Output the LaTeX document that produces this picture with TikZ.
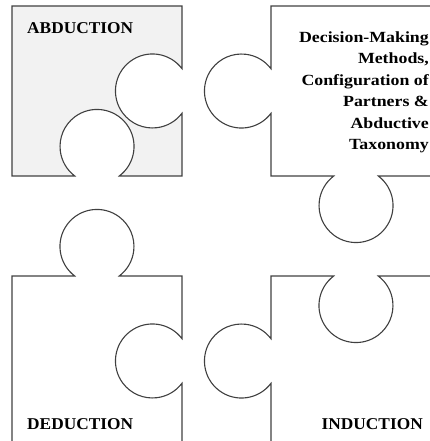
\documentclass[tikz,border=0pt]{standalone}
\usepackage{fontspec}
\usepackage{tikz}
\usetikzlibrary{positioning}
\newfontfamily\piecefont[FakeStretch=1.05]{Liberation Serif}
\newfontfamily\notefont[FakeStretch=1.15]{Liberation Serif}

\begin{document}
\begin{tikzpicture}[x=1pt,y=1pt]
    % Local definitions
    \def\rad{37}

    % Colors
    \colorlet{edgecolor}{black!75}
    \colorlet{shadecolor}{black!5}

    % Styles
    \tikzstyle{piece}=[draw=edgecolor,line width=1.1pt]
    \tikzstyle{shaded piece}=[piece,fill=shadecolor]
    \tikzstyle{piece text}=[inner sep=0pt,font=\piecefont\bfseries\fontsize{16.5}{18}\selectfont]
    \tikzstyle{note text}=[inner sep=0pt,align=right,font=\notefont\bfseries\fontsize{15.5}{21.5}\selectfont]

    % The graphic
    \useasboundingbox (0,0) rectangle (430,441);
    \clip (0,0) rectangle (430,441);

    % top left
    \draw[style=shaded piece] (12,435) -- (182,435) -- (182,372.3) arc(37:323:\rad)
      -- (182,265) -- (119.3,265) arc(-53:233:\rad) -- (12,265) -- cycle;

    % top right
    \draw[style=piece] (271,435) -- (441,435) -- (441,265) -- (378.3,265) arc(53:-233:\rad)
      -- (271,265) -- (271,327.7) arc(-37:-323:\rad) -- cycle;

    % bottom left
    \draw[style=piece] (12,165) -- (74.7,165) arc(233:-53:\rad) -- (182,165)
      -- (182,102.3) arc(37:323:\rad) -- (182,-5) -- (12,-5) -- cycle;

    % bottom right
    \draw[style=piece] (271,165) -- (333.7,165) arc(127:413:\rad) -- (441,165)
      -- (441,-5) -- (271,-5) -- (271,57.7) arc(-37:-323:\rad) -- cycle;

    \node[style=piece text,anchor=base west] (abduction) at (27,407.7) {ABDUCTION};
    \node[style=piece text,anchor=base west] (deduction) at (27,12) {DEDUCTION};
    \node[style=piece text,anchor=base west] (induction) at (321.5,12) {INDUCTION};

    \node[style=note text,anchor=north east] (methods) at (429,409.5)
      {Decision-Making\\Methods,\\Configuration of\\Partners \&\\Abductive\\Taxonomy};
\end{tikzpicture}
\end{document}
